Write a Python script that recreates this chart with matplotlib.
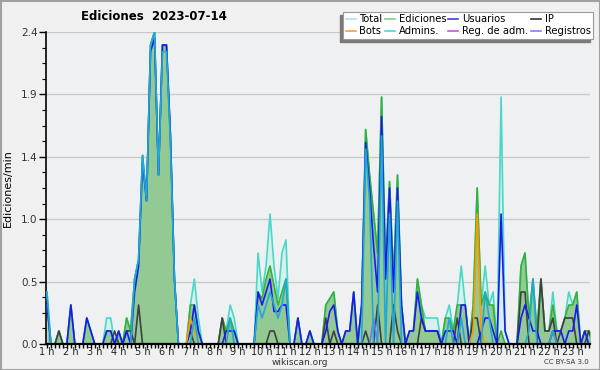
import matplotlib

matplotlib.use("Agg")
import matplotlib.pyplot as plt
import numpy as np
from matplotlib.patches import Rectangle
from matplotlib.ticker import FixedLocator, MultipleLocator

# one value every 10 minutes, from 1:00 to 23:50 (edits per minute)
total = [
    0.4, 0, 0, 0.1, 0, 0, 0.3, 0, 0, 0, 0.2, 0.1,
    0, 0, 0, 0.2, 0.2, 0, 0.1, 0, 0.2, 0.1, 0.5, 0.65,
    1.45, 1.1, 2.3, 2.4, 1.3, 2.3, 2.3, 1.6, 0.5, 0, 0, 0,
    0.3, 0.5, 0.2, 0, 0, 0, 0, 0, 0.2, 0.1, 0.3, 0.2,
    0, 0, 0, 0, 0, 0.7, 0.4, 0.6, 1.0, 0.6, 0.35, 0.7,
    0.8, 0, 0, 0.2, 0, 0, 0.1, 0, 0, 0, 0.3, 0.35,
    0.4, 0.1, 0, 0.1, 0.1, 0.4, 0, 0.3, 1.65, 1.3, 1.0, 0.7,
    1.9, 0.6, 1.25, 0.5, 1.3, 0.3, 0, 0.1, 0.1, 0.5, 0.3, 0.2,
    0.2, 0.2, 0.2, 0, 0.2, 0.3, 0.1, 0.3, 0.6, 0.3, 0, 0.3,
    1.2, 0.3, 0.6, 0.3, 0.4, 0, 1.9, 0.1, 0, 0, 0, 0.6,
    0.7, 0.2, 0.5, 0.1, 0.5, 0.1, 0.1, 0.4, 0.1, 0.1, 0.2, 0.4,
    0.3, 0.4, 0, 0.1, 0.1, 0.1,
]
ediciones = [
    0.3, 0, 0, 0.1, 0, 0, 0.3, 0, 0, 0, 0.2, 0.1,
    0, 0, 0, 0.1, 0.1, 0, 0.1, 0, 0.2, 0.1, 0.5, 0.65,
    1.45, 1.1, 2.3, 2.4, 1.3, 2.3, 2.3, 1.6, 0.5, 0, 0, 0,
    0.3, 0.3, 0.1, 0, 0, 0, 0, 0, 0.2, 0.1, 0.2, 0.1,
    0, 0, 0, 0, 0, 0.4, 0.35, 0.5, 0.6, 0.45, 0.3, 0.4,
    0.5, 0, 0, 0.2, 0, 0, 0.1, 0, 0, 0, 0.3, 0.35,
    0.4, 0.1, 0, 0.1, 0.1, 0.4, 0, 0.3, 1.65, 1.3, 1.0, 0.7,
    1.9, 0.6, 1.25, 0.5, 1.3, 0.3, 0, 0.1, 0.1, 0.5, 0.3, 0.1,
    0.1, 0.1, 0.1, 0, 0.2, 0.2, 0.1, 0.3, 0.3, 0.3, 0, 0.3,
    1.2, 0.3, 0.4, 0.3, 0.3, 0, 0.1, 0, 0, 0, 0, 0.6,
    0.7, 0.2, 0.5, 0.1, 0.5, 0.1, 0.1, 0.3, 0.1, 0.1, 0.2, 0.3,
    0.3, 0.4, 0, 0.1, 0.1, 0.1,
]
usuarios = [
    0.3, 0, 0, 0, 0, 0, 0.3, 0, 0, 0, 0.2, 0.1,
    0, 0, 0, 0.1, 0.1, 0, 0.1, 0, 0.1, 0, 0.4, 0.6,
    1.4, 1.1, 2.25, 2.35, 1.3, 2.3, 2.3, 1.6, 0.5, 0, 0, 0,
    0.1, 0.3, 0.1, 0, 0, 0, 0, 0, 0, 0.1, 0.1, 0.1,
    0, 0, 0, 0, 0, 0.4, 0.3, 0.4, 0.5, 0.25, 0.25, 0.3,
    0.3, 0, 0, 0.2, 0, 0, 0.1, 0, 0, 0, 0.1, 0.25,
    0.3, 0.1, 0, 0.1, 0.1, 0.4, 0, 0.3, 1.55, 1.2, 0.75, 0.4,
    1.75, 0.5, 1.2, 0.4, 1.2, 0.3, 0, 0.1, 0.1, 0.4, 0.2, 0.1,
    0.1, 0.1, 0.1, 0, 0.1, 0.1, 0.1, 0, 0.3, 0.3, 0, 0,
    0, 0.1, 0.2, 0.2, 0.1, 0, 1.0, 0.1, 0, 0, 0, 0.2,
    0.3, 0.2, 0.1, 0.1, 0, 0, 0, 0.1, 0.1, 0.1, 0, 0.1,
    0.1, 0.3, 0, 0.1, 0, 0,
]
ip = [
    0, 0, 0, 0.1, 0, 0, 0, 0, 0, 0, 0, 0,
    0, 0, 0, 0, 0, 0.1, 0, 0, 0.1, 0.1, 0, 0.3,
    0, 0, 0, 0, 0, 0, 0, 0, 0, 0, 0, 0,
    0.1, 0, 0, 0, 0, 0, 0, 0, 0.2, 0, 0, 0,
    0, 0, 0, 0, 0, 0, 0, 0, 0.1, 0.1, 0, 0,
    0, 0, 0, 0, 0, 0, 0, 0, 0, 0, 0.2, 0,
    0.1, 0, 0, 0, 0, 0, 0, 0, 0.1, 0, 0, 0.3,
    0, 0, 0, 0.3, 0.1, 0, 0, 0, 0, 0, 0.2, 0.1,
    0.1, 0.1, 0.1, 0, 0, 0, 0, 0.2, 0, 0, 0, 0.2,
    0.2, 0, 0, 0, 0, 0, 0, 0, 0, 0, 0, 0.4,
    0.4, 0, 0, 0, 0.5, 0.1, 0.1, 0.2, 0, 0.1, 0.2, 0.2,
    0.2, 0, 0, 0, 0.1, 0,
]
admins = [
    0.4, 0, 0, 0, 0, 0, 0, 0, 0, 0, 0, 0,
    0, 0, 0, 0, 0, 0, 0, 0, 0, 0, 0.5, 0.65,
    1.45, 1.1, 2.3, 2.4, 1.3, 2.25, 2.25, 1.55, 0.5, 0, 0, 0,
    0, 0.2, 0, 0, 0, 0, 0, 0, 0, 0, 0.2, 0,
    0, 0, 0, 0, 0, 0.3, 0.2, 0.3, 0.4, 0.3, 0.2, 0.3,
    0.5, 0, 0, 0, 0, 0, 0, 0, 0, 0, 0, 0,
    0, 0, 0, 0, 0, 0, 0, 0, 1.5, 1.1, 0, 0,
    1.6, 0, 1.0, 0, 1.1, 0, 0, 0, 0, 0, 0, 0,
    0, 0, 0, 0, 0, 0.2, 0, 0, 0.2, 0, 0, 0,
    0, 0, 0.4, 0.2, 0, 0, 0, 0, 0, 0, 0, 0,
    0, 0.1, 0.5, 0, 0, 0, 0, 0.1, 0, 0, 0, 0,
    0, 0, 0, 0, 0, 0,
]
bots = [0.0] * 138
bots[36], bots[37] = 0.2, 0.1
bots[107], bots[108], bots[109] = 0.1, 1.0, 0.1
reg_adm = [0.0] * 138
reg_adm[127] = 0.1
registros = [0.0] * 138
registros[82] = 0.2

hour_labels = [f"{h} h" for h in range(1, 24)]

hours = 1 + np.arange(len(total)) / 6

fig = plt.figure(figsize=(6, 3.7), dpi=100, facecolor="#f0f0f0")
ax = fig.add_axes([46 / 600, 26 / 370, 544 / 600, 312 / 370])
ax.set_facecolor("#eef0f2")

ax.fill_between(hours, total, color="#d6f1ec", lw=0, zorder=1)
ax.fill_between(hours, ediciones, color="#93c993", lw=0, zorder=2)

series = [
    ("Total", total, "#48d8c8", 4),
    ("Ediciones", ediciones, "#38b038", 5),
    ("IP", ip, "#404040", 6),
    ("Usuarios", usuarios, "#1a1af0", 7),
    ("Bots", bots, "#ff9900", 8),
    ("Reg. de adm.", reg_adm, "#c040e0", 8),
    ("Registros", registros, "#7878f0", 8),
    ("Admins.", admins, "#20a8d8", 9),
]
for name, values, color, z in series:
    ax.plot(hours, values, color=color, lw=1.2, zorder=z)

legend_colors = {
    "Total": "#a8e8e0", "Ediciones": "#80d080", "Usuarios": "#4040e0",
    "IP": "#303030", "Bots": "#ffa030", "Admins.": "#50d0e0",
    "Reg. de adm.": "#d050e0", "Registros": "#8080f0",
}
order = ["Total", "Bots", "Ediciones", "Admins.", "Usuarios",
         "Reg. de adm.", "IP", "Registros"]
leg_handles = [plt.Line2D([], [], color=legend_colors[n], lw=1.2) for n in order]

ax.set_xlim(0.96, 23.72)
ax.set_ylim(0, 2.4)

yticks = np.linspace(0, 2.4, 6)
ax.yaxis.set_major_locator(FixedLocator(yticks))
ax.set_yticklabels([f"{v:.1f}" for v in yticks])
ax.yaxis.set_minor_locator(MultipleLocator(0.12))
ax.set_xticks(range(1, 24))
ax.set_xticklabels(hour_labels)
ax.xaxis.set_minor_locator(MultipleLocator(1 / 6))

ax.grid(axis="y", color="#c8c8c8", lw=0.9, zorder=0)
ax.set_axisbelow(True)
for side in ("top", "right"):
    ax.spines[side].set_visible(False)
ax.spines["left"].set_linewidth(1.2)
ax.spines["bottom"].set_linewidth(1.6)
ax.spines["bottom"].set_zorder(12)
ax.tick_params(axis="y", which="major", length=5, width=1, labelsize=7.5,
               labelcolor="#333333", pad=1)
ax.tick_params(axis="y", which="minor", length=3, width=0.8)
ax.tick_params(axis="x", which="both", length=3, width=1, labelsize=7,
               labelcolor="#222222", pad=-0.5)

ax.set_ylabel("Ediciones/min", fontsize=8, labelpad=6)

fig.text(154 / 600, 1 - 17 / 370, "Ediciones  2023-07-14", ha="center",
         va="center", fontsize=8.5, fontweight="bold")
fig.text(300 / 600, 1 - 362.5 / 370, "wikiscan.org", ha="center", va="center",
         fontsize=6.5, color="#333333")
fig.text(589 / 600, 1 - 362.5 / 370, "CC BY-SA 3.0", ha="right", va="center",
         fontsize=5, color="#333333")

leg = fig.legend(leg_handles, order, ncol=4, loc="upper right",
                 bbox_to_anchor=(593 / 600, 1 - 12 / 370), borderaxespad=0,
                 fontsize=7.2, handlelength=1.0, handletextpad=0.4,
                 columnspacing=0.2, labelspacing=0.15, borderpad=0.25,
                 fancybox=False, framealpha=1, edgecolor="#999999")
leg.get_frame().set_linewidth(0.8)
leg.set_zorder(6)

fig.add_artist(Rectangle((0.5, 0.5), 599, 369, transform=None, fill=False,
                         edgecolor="#a0a0a0", lw=1.5))

fig.canvas.draw()
bb = leg.get_window_extent()
fig.add_artist(Rectangle((bb.x0 - 3, bb.y0 - 3), bb.width, bb.height,
                         transform=None, color="#7a7a7a", zorder=5))

fig.savefig("out.png", dpi=100, facecolor=fig.get_facecolor())
